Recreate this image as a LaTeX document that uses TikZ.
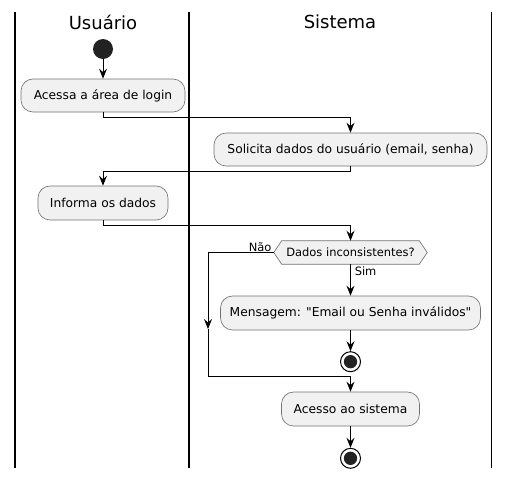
\documentclass[tikz,border=0pt]{standalone}
\usepackage{fontspec}
\setmainfont{DejaVu Sans}[Ligatures=TeXOff]
\usetikzlibrary{arrows.meta,calc}
\definecolor{boxfill}{HTML}{F1F1F1}
\definecolor{dark}{HTML}{222222}
\tikzset{
  actbox/.style={draw=black!55, line width=0.5pt, fill=boxfill, rounded corners=9pt, inner sep=0pt, font=\fontsize{9.2pt}{11pt}\selectfont},
  arr/.style={line width=0.75pt, -{Stealth[length=7.5pt,width=6pt,inset=2.6pt]}},
  ln/.style={line width=0.75pt},
  lane/.style={line width=1.1pt},
  title/.style={font=\fontsize{13.5pt}{16pt}\selectfont},
  small/.style={font=\fontsize{8.6pt}{10pt}\selectfont, inner sep=0pt},
}
\begin{document}
\begin{tikzpicture}[x=0.75pt,y=-0.75pt]
\useasboundingbox (0,0) rectangle (510,479);
% lanes
\coordinate (l1t) at (15,12); \coordinate (l1b) at (15,468);
\coordinate (l2t) at (189,12); \coordinate (l2b) at (189,468);
\coordinate (l3t) at (491.5,12); \coordinate (l3b) at (491.5,468);
\draw[lane] (l1t) -- (l1b);
\draw[lane] (l2t) -- (l2b);
\draw[lane] (l3t) -- (l3b);
\node[title] (tu) at (103,22) {Usuário};
\node[title] (ts) at (340,22) {Sistema};
% nodes
\node[circle, fill=dark, minimum size=15pt, inner sep=0pt] (start) at (103,49) {};
\node[actbox, minimum width={164*0.75pt}, minimum height={33*0.75pt}] (b1) at (103,95.5) {Acessa a área de login};
\node[actbox, minimum width={273*0.75pt}, minimum height={33*0.75pt}] (b2) at (350.5,149.5) {Solicita dados do usuário (email, senha)};
\node[actbox, minimum width={130*0.75pt}, minimum height={34*0.75pt}] (b3) at (103,203) {Informa os dados};
\node[small, minimum width={137*0.75pt}, minimum height={23*0.75pt}] (d) at (350.5,252.5) {};
\draw[draw=black!55, line width=0.5pt, fill=boxfill] (d.north west) -- (d.north east) -- ($(d.east)+(8,0)$) -- (d.south east) -- (d.south west) -- ($(d.west)+(-8,0)$) -- cycle;
\node[small] (dt) at (d) {Dados inconsistentes?};
\coordinate (dl) at ($(d.west)+(-8,0)$);
\node[actbox, minimum width={260*0.75pt}, minimum height={34*0.75pt}] (b4) at (350.5,313) {Mensagem: "Email ou Senha inválidos"};
\node[circle, draw=black, line width=0.75pt, fill=white, minimum size=15pt, inner sep=0pt] (stop1) at (350.5,361.7) {};
\fill[dark] (stop1) circle (5pt);
\node[actbox, minimum width={138*0.75pt}, minimum height={34*0.75pt}] (b5) at (350.5,409) {Acesso ao sistema};
\node[circle, draw=black, line width=0.75pt, fill=white, minimum size=15pt, inner sep=0pt] (end) at (350.5,458.3) {};
\fill[dark] (end) circle (5pt);
% connectors
\draw[arr] (start) -- (b1);
\draw[arr] (b1.south) -- ++(0,5) -| (b2.north);
\draw[arr] (b2.south) -- ++(0,5) -| (b3.north);
\draw[arr] (b3.south) -- ++(0,5) -| (d.north);
\draw[arr] (d.south) -- (b4.north);
\draw[arr] (b4.south) -- (stop1.north);
\draw[arr] (b5.south) -- (end.north);
\coordinate (nA) at (208,252.5);
\coordinate (nB) at (208,329);
\coordinate (nC) at (208,376.7);
\draw[ln] (dl) -- (nA);
\draw[arr] (nA) -- (nB);
\draw[arr] (nB) -- (nC) -| (b5.north);
\node[small, anchor=south east] (nao) at ($(dl)+(-2,-1)$) {Não};
\node[small, anchor=north west] (sim) at ($(d.south)+(4,2)$) {Sim};
\end{tikzpicture}
\end{document}
